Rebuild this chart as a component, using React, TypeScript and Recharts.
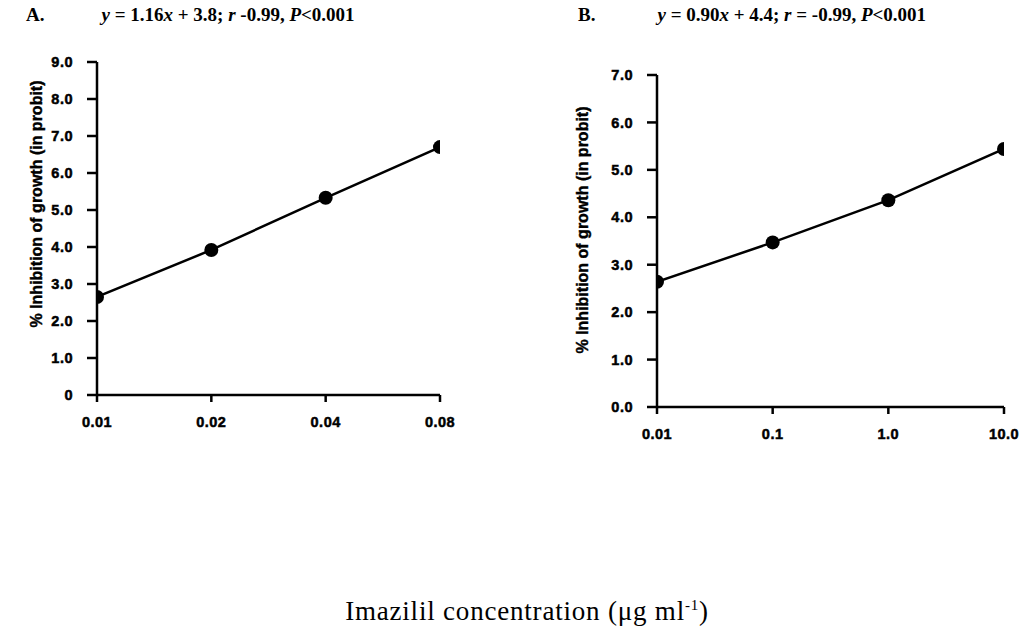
import { LineChart, Line, XAxis, YAxis } from 'recharts';

// panel A: imazilil concentration vs probit inhibition
const concA = [0.01, 0.02, 0.04, 0.08];
const probitA = [2.65, 3.92, 5.33, 6.7];
const ticksYA = [0, 1, 2, 3, 4, 5, 6, 7, 8, 9];

// panel B
const concB = [0.01, 0.1, 1, 10];
const probitB = [2.64, 3.47, 4.36, 5.44];
const ticksYB = [0, 1, 2, 3, 4, 5, 6, 7];
const labelsXB = ['0.01', '0.1', '1.0', '10.0'];

const dataA = concA.map((c, i) => ({ c, v: probitA[i] }));
const dataB = concB.map((c, i) => ({ c, v: probitB[i] }));

const INK = '#000';
const TICK = {
  fill: INK, stroke: INK, strokeWidth: 0.5, fontSize: 14.5, fontWeight: 700, letterSpacing: 0.5,
  fontFamily: 'Liberation Sans, Arial, sans-serif',
};
const Y_LABEL = '% Inhibition of growth (in probit)';

function Title({ left, letter, eq, gap }: { left: number; letter: string; eq: React.ReactNode; gap: number }) {
  return (
    <div style={{ position: 'absolute', left, top: 4, fontFamily: 'Liberation Serif, Times New Roman, serif', fontWeight: 700, color: INK, whiteSpace: 'nowrap' }}>
      <span style={{ fontSize: 19 }}>{letter}</span>
      <span style={{ fontSize: 19, marginLeft: gap }}>{eq}</span>
    </div>
  );
}

function YLabel({ cx, cy }: { cx: number; cy: number }) {
  return (
    <div style={{
      position: 'absolute', left: cx, top: cy, transform: 'translate(-50%, -50%) rotate(-90deg)',
      fontFamily: 'Liberation Sans, Arial, sans-serif', fontWeight: 700, fontSize: 16, whiteSpace: 'nowrap', color: INK,
      WebkitTextStroke: '0.4px #000',
    }}>{Y_LABEL}</div>
  );
}

export default function App() {
  return (
    <div style={{ position: 'absolute', left: 0, top: 0, width: 1022, height: 637, background: '#fff', overflow: 'hidden' }}>
      <Title left={26} letter="A." gap={57} eq={<><i>y</i> = 1.16<i>x</i> + 3.8; <i>r</i> -0.99, <i>P</i>&lt;0.001</>} />
      <Title left={578} letter="B." gap={62} eq={<><i>y</i> = 0.90<i>x</i> + 4.4; <i>r</i> = -0.99, <i>P</i>&lt;0.001</>} />

      <div style={{ position: 'absolute', left: 0, top: 0 }}>
        <LineChart width={470} height={450} data={dataA} margin={{ top: 62, right: 30, bottom: 15, left: 52 }}>
          <XAxis dataKey="c" type="number" scale="log" domain={[0.01, 0.08]} ticks={concA}
            tickFormatter={(v: number) => String(v)} tick={TICK} stroke={INK} strokeWidth={2.5}
            tickSize={7} tickMargin={15} height={40} allowDataOverflow />
          <YAxis type="number" domain={[0, 9]} ticks={ticksYA} interval={0}
            tickFormatter={(v: number) => (v === 0 ? '0' : v.toFixed(1))} tick={TICK} stroke={INK} strokeWidth={2.5}
            tickSize={10} tickMargin={14} width={45} />
          <Line dataKey="v" stroke={INK} strokeWidth={2.5} isAnimationActive={false}
            dot={{ r: 7, fill: INK, stroke: INK, strokeWidth: 0 }} />
        </LineChart>
      </div>
      <YLabel cx={37} cy={204} />

      <div style={{ position: 'absolute', left: 560, top: 0 }}>
        <LineChart width={462} height={462} data={dataB} margin={{ top: 75, right: 18, bottom: 15, left: 52 }}>
          <XAxis dataKey="c" type="number" scale="log" domain={[0.01, 10]} ticks={concB}
            tickFormatter={(v: number) => labelsXB[concB.indexOf(v)]} tick={TICK} stroke={INK} strokeWidth={2.5}
            tickSize={7} tickMargin={15} height={40} allowDataOverflow />
          <YAxis type="number" domain={[0, 7]} ticks={ticksYB} interval={0}
            tickFormatter={(v: number) => v.toFixed(1)} tick={TICK} stroke={INK} strokeWidth={2.5}
            tickSize={10} tickMargin={14} width={45} />
          <Line dataKey="v" stroke={INK} strokeWidth={2.5} isAnimationActive={false}
            dot={{ r: 7, fill: INK, stroke: INK, strokeWidth: 0 }} />
        </LineChart>
      </div>
      <YLabel cx={583} cy={230} />

      <div style={{
        position: 'absolute', left: 0, width: 1054, top: 596, textAlign: 'center',
        fontFamily: 'Liberation Serif, Times New Roman, serif', fontSize: 27, letterSpacing: 0.8, color: INK,
      }}>
        Imazilil concentration (μg ml<sup style={{ fontSize: 15 }}>-1</sup>)
      </div>
    </div>
  );
}
